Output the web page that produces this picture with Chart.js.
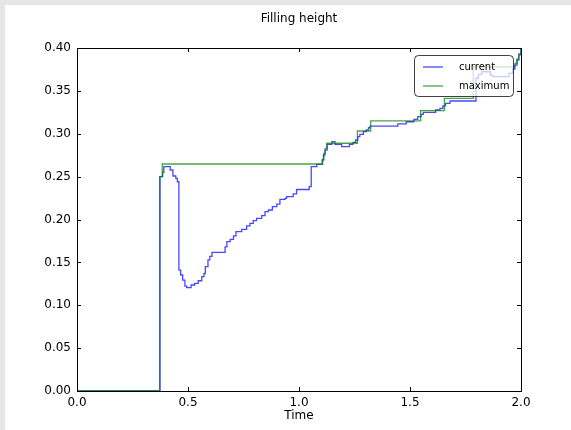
<!DOCTYPE html>
<html>
<head>
<meta charset="utf-8">
<script src="https://cdn.jsdelivr.net/npm/chart.js@4/dist/chart.umd.min.js"></script>
<style>
html,body{margin:0;padding:0;background:#e6e6e6;}
#wrap{position:relative;width:571px;height:430px;}
canvas{display:block;}
</style>
</head>
<body>
<div id="wrap"><canvas id="c" width="571" height="430"></canvas></div>
<script>
const chartTitle = "Filling height";
const xAxisTitle = "Time";
const seriesNames = ["current", "maximum"];

// current filling height (stepped: value holds from each time onwards)
const timeCurrent = [0.000,0.374,0.386,0.391,0.420,0.432,0.445,0.452,0.459,0.467,0.476,0.486,0.494,0.514,0.530,0.546,0.562,0.572,0.578,0.590,0.598,0.608,0.667,0.675,0.690,0.705,0.716,0.742,0.764,0.779,0.794,0.809,0.832,0.847,0.862,0.880,0.900,0.914,0.937,0.944,0.974,0.989,1.046,1.055,1.080,1.104,1.110,1.117,1.127,1.148,1.162,1.192,1.227,1.243,1.255,1.265,1.274,1.290,1.303,1.313,1.320,1.445,1.483,1.518,1.535,1.550,1.560,1.615,1.635,1.648,1.660,1.680,1.797,1.808,1.823,1.862,1.872,1.945,1.962,1.972,1.982,1.990,2.000];
const valueCurrent = [0.000,0.250,0.255,0.2616,0.2577,0.2507,0.248,0.244,0.141,0.1353,0.1294,0.1224,0.1205,0.1236,0.1256,0.1286,0.1333,0.137,0.145,0.1528,0.157,0.1617,0.168,0.1741,0.1769,0.181,0.1858,0.1886,0.1925,0.1955,0.1986,0.2014,0.2045,0.2091,0.2111,0.2149,0.218,0.2235,0.2247,0.2266,0.230,0.235,0.2383,0.2616,0.2644,0.2694,0.2752,0.281,0.2877,0.2908,0.2877,0.2849,0.2877,0.290,0.2927,0.2966,0.2993,0.3024,0.3044,0.307,0.309,0.3114,0.314,0.3168,0.3199,0.3227,0.325,0.3277,0.3297,0.3324,0.3355,0.3382,0.3647,0.3693,0.3723,0.3685,0.3666,0.3705,0.3755,0.380,0.386,0.392,0.399];

// running maximum
const timeMaximum = [0.000,0.372,0.384,1.107,1.112,1.118,1.125,1.263,1.323,1.548,1.655,1.785,1.973,1.982,1.990,2.000];
const valueMaximum = [0.000,0.250,0.2647,0.270,0.277,0.283,0.2889,0.3032,0.3149,0.3269,0.3413,0.378,0.382,0.387,0.393,0.400];

const xTicks = [0.0, 0.5, 1.0, 1.5, 2.0];
const yTicks = [0.00, 0.05, 0.10, 0.15, 0.20, 0.25, 0.30, 0.35, 0.40];

const FONT = "'DejaVu Sans', sans-serif";
const colCurrent = "rgba(0,0,255,0.72)";
const colMaximum = "rgba(0,128,0,0.72)";

const pts = (xs, ys) => xs.map((x, i) => ({x: x, y: ys[i]}));

const framePlugin = {
  id: 'frame',
  beforeDraw(chart) {
    const ctx = chart.ctx;
    ctx.save();
    ctx.fillStyle = '#e6e6e6';
    ctx.fillRect(0, 0, chart.width, chart.height);
    ctx.fillStyle = '#ffffff';
    ctx.fillRect(5, 5, chart.width - 5, chart.height - 5);
    ctx.restore();
  },
  afterDatasetsDraw(chart) {
    const ctx = chart.ctx;
    const a = chart.chartArea;
    const xs = chart.scales.x, ys = chart.scales.y;
    ctx.save();
    ctx.strokeStyle = '#000';
    ctx.lineWidth = 1;
    ctx.beginPath();
    xTicks.forEach(v => {
      const px = Math.round(xs.getPixelForValue(v)) + 0.5;
      ctx.moveTo(px, a.bottom); ctx.lineTo(px, a.bottom - 4);
      ctx.moveTo(px, a.top); ctx.lineTo(px, a.top + 4);
    });
    yTicks.forEach(v => {
      const py = Math.round(ys.getPixelForValue(v)) + 0.5;
      ctx.moveTo(a.left, py); ctx.lineTo(a.left + 4, py);
      ctx.moveTo(a.right, py); ctx.lineTo(a.right - 4, py);
    });
    ctx.stroke();
    ctx.strokeRect(Math.round(a.left) + 0.5, Math.round(a.top) + 0.5,
                   Math.round(a.right - a.left), Math.round(a.bottom - a.top));

    // legend (semi-transparent, upper right)
    const lx = 414.5, ly = 55.5, lw = 99, lh = 41, r = 4;
    ctx.beginPath();
    ctx.moveTo(lx + r, ly);
    ctx.lineTo(lx + lw - r, ly);
    ctx.arcTo(lx + lw, ly, lx + lw, ly + r, r);
    ctx.lineTo(lx + lw, ly + lh - r);
    ctx.arcTo(lx + lw, ly + lh, lx + lw - r, ly + lh, r);
    ctx.lineTo(lx + r, ly + lh);
    ctx.arcTo(lx, ly + lh, lx, ly + lh - r, r);
    ctx.lineTo(lx, ly + r);
    ctx.arcTo(lx, ly, lx + r, ly, r);
    ctx.closePath();
    ctx.fillStyle = 'rgba(255,255,255,0.72)';
    ctx.fill();
    ctx.strokeStyle = 'rgba(0,0,0,0.75)';
    ctx.stroke();
    const cols = [colCurrent, colMaximum];
    const rowsY = [67, 86];
    ctx.font = '10px ' + FONT;
    ctx.textBaseline = 'middle';
    ctx.textAlign = 'left';
    seriesNames.forEach((n, i) => {
      ctx.strokeStyle = cols[i];
      ctx.lineWidth = 1.3;
      ctx.beginPath();
      ctx.moveTo(423, rowsY[i]); ctx.lineTo(443, rowsY[i]);
      ctx.stroke();
      ctx.fillStyle = '#000';
      ctx.fillText(n, 459, rowsY[i]);
    });
    ctx.restore();
  }
};

new Chart(document.getElementById('c'), {
  type: 'line',
  data: {
    datasets: [
      {
        label: seriesNames[0],
        data: pts(timeCurrent, valueCurrent),
        borderColor: colCurrent,
        borderWidth: 1.3,
        pointRadius: 0,
        stepped: 'before',
        fill: false,
        order: 2
      },
      {
        label: seriesNames[1],
        data: pts(timeMaximum, valueMaximum),
        borderColor: colMaximum,
        borderWidth: 1.3,
        pointRadius: 0,
        stepped: 'before',
        fill: false,
        order: 1
      }
    ]
  },
  options: {
    responsive: false,
    animation: false,
    events: [],
    layout: {padding: {left: 0, right: 50, top: 0, bottom: 0}},
    plugins: {
      legend: {display: false},
      tooltip: {enabled: false},
      title: {
        display: true,
        fullSize: false,
        text: chartTitle,
        color: '#000',
        font: {family: FONT, size: 12, weight: 'normal'},
        padding: {top: 11.5, bottom: 22.1}
      }
    },
    scales: {
      x: {
        type: 'linear',
        min: 0, max: 2,
        afterFit: s => { s.height = 39; },
        afterBuildTicks: s => { s.ticks = xTicks.map(v => ({value: v})); },
        grid: {display: false, drawTicks: false},
        border: {display: false},
        ticks: {
          color: '#000',
          font: {family: FONT, size: 12},
          padding: 5,
          maxRotation: 0,
          autoSkip: false,
          callback: v => v.toFixed(1)
        },
        title: {
          display: true,
          text: xAxisTitle,
          color: '#000',
          font: {family: FONT, size: 12},
          padding: {top: 0, bottom: 7}
        }
      },
      y: {
        type: 'linear',
        min: 0, max: 0.4,
        afterFit: s => { s.width = 77; },
        afterBuildTicks: s => { s.ticks = yTicks.map(v => ({value: v})); },
        grid: {display: false, drawTicks: false},
        border: {display: false},
        ticks: {
          color: '#000',
          font: {family: FONT, size: 12},
          padding: 6,
          autoSkip: false,
          callback: v => v.toFixed(2)
        }
      }
    }
  },
  plugins: [framePlugin]
});
</script>
</body>
</html>
